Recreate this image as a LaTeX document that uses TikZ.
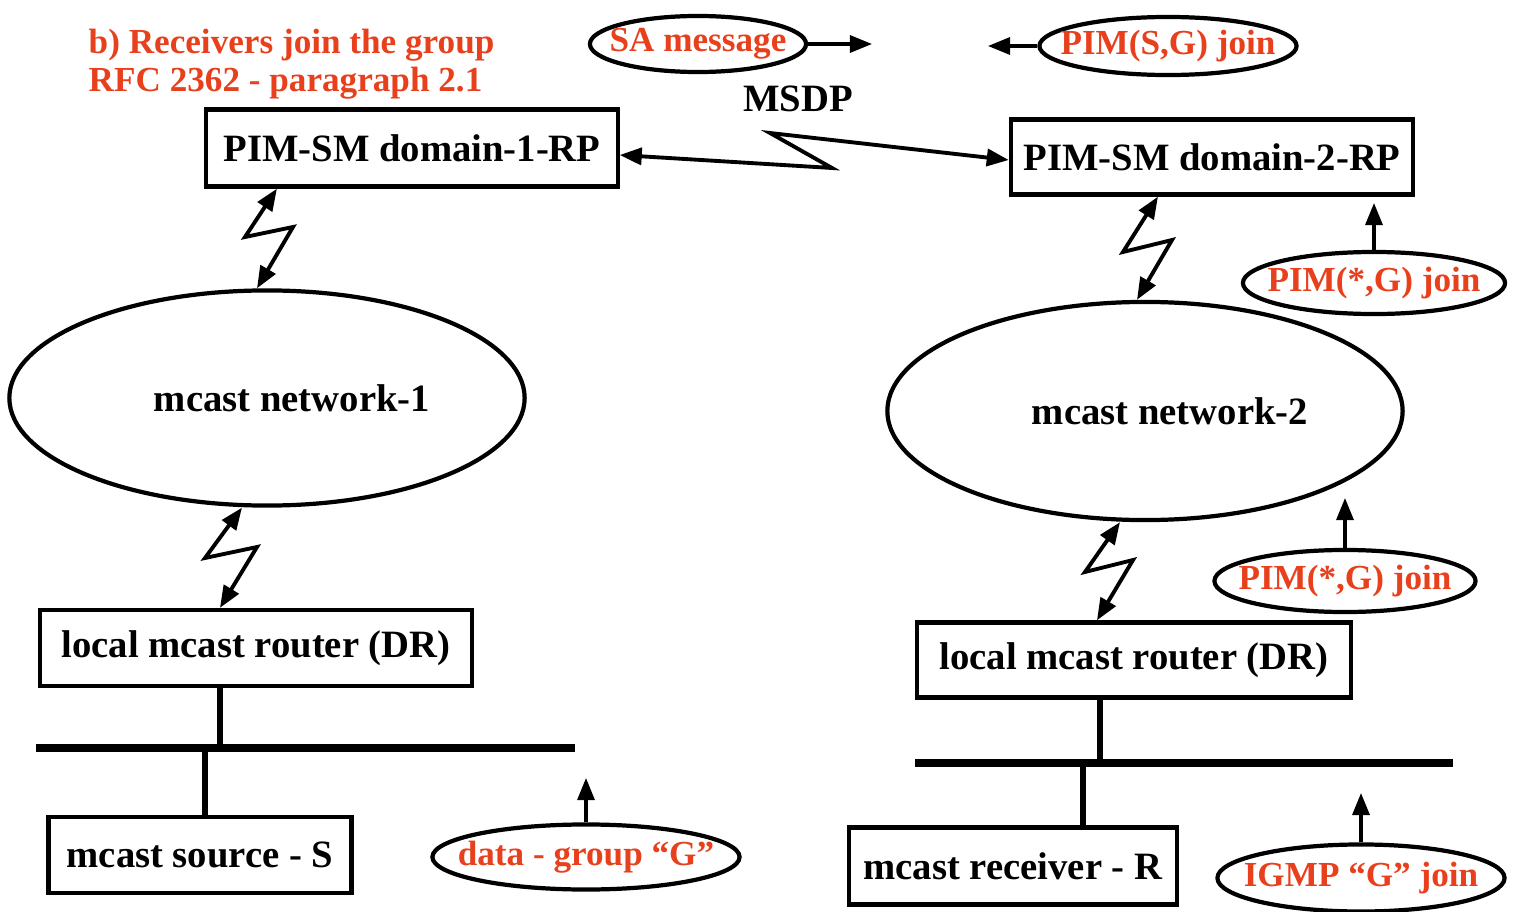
\documentclass[tikz,border=0pt]{standalone}
\usepackage{fontspec}
\setmainfont{Liberation Serif}
\usetikzlibrary{shapes.geometric,arrows.meta}
\definecolor{msgred}{RGB}{232,64,28}
\newcommand{\msgtext}[1]{\makebox[0pt]{#1}}

\begin{document}
\begin{tikzpicture}[x=0.01cm,y=-0.01cm,
        box/.style={draw,line width=1.2pt,inner sep=0pt,font=\fontsize{11}{13}\selectfont\bfseries},
        cloud/.style={draw,ellipse,line width=1.2pt,inner sep=0pt,font=\fontsize{11}{13}\selectfont\bfseries},
        msg/.style={draw,ellipse,line width=1.2pt,inner sep=0pt,text=msgred,font=\fontsize{10}{12}\selectfont\bfseries},
        zap/.style={line width=1.1pt,line join=miter,{Triangle[length=0.22cm,width=0.17cm]}-{Triangle[length=0.22cm,width=0.17cm]}},
        push/.style={line width=0.9pt,-{Triangle[length=0.22cm,width=0.17cm]}},
        bus/.style={line width=2.3pt},
        drop/.style={line width=1.7pt}]
        \useasboundingbox (0,0) rectangle (1514,912);  % Frame

        % Title
        \node[anchor=north west,align=left,text=msgred,font=\fontsize{10}{10.8}\selectfont\bfseries,inner sep=0pt] (title) at (88,28) {b) Receivers join the group\\RFC 2362 - paragraph 2.1};

        % Domain 1
        \node[box,minimum width=4.11cm,minimum height=0.77cm] (rp1) at (412,148) {PIM-SM domain-1-RP};
        \node[cloud,minimum width=5.15cm,minimum height=2.15cm] (net1) at (267,398) {\hspace{0.5cm}mcast network-1};
        \node[box,minimum width=4.32cm,minimum height=0.76cm] (dr1) at (256,648) {local mcast router (DR)\hspace{0.2cm}};
        \node[box,minimum width=3.03cm,minimum height=0.76cm] (src) at (200,855) {mcast source - S};

        % Domain 2
        \node[box,minimum width=4.02cm,minimum height=0.75cm] (rp2) at (1212,157) {PIM-SM domain-2-RP};
        \node[cloud,minimum width=5.15cm,minimum height=2.18cm] (net2) at (1145,411) {\hspace{0.5cm}mcast network-2};
        \node[box,minimum width=4.33cm,minimum height=0.75cm] (dr2) at (1134,660) {local mcast router (DR)\hspace{0.2cm}};
        \node[box,minimum width=3.28cm,minimum height=0.77cm] (rcv) at (1013,866) {mcast receiver - R};

        % Messages
        \node[msg,minimum width=2.16cm,minimum height=0.56cm] (sa) at (698,44) {\msgtext{SA message}};
        \node[msg,minimum width=2.57cm,minimum height=0.58cm] (sgjoin) at (1168,46) {\msgtext{PIM(S,G) join}};
        \node[msg,minimum width=2.62cm,minimum height=0.62cm] (rpjoin) at (1374,283) {\msgtext{PIM(*,G) join}};
        \node[msg,minimum width=2.61cm,minimum height=0.62cm] (netjoin) at (1345,581) {\msgtext{PIM(*,G) join}};
        \node[msg,minimum width=3.07cm,minimum height=0.65cm] (data) at (586,857) {\msgtext{data - group “G”}};
        \node[msg,minimum width=2.87cm,minimum height=0.67cm] (igmp) at (1361,878) {\msgtext{IGMP “G” join}};
        \node[font=\fontsize{11}{13}\selectfont\bfseries] (msdp) at (798,99) {MSDP};

        % Free ends of the message arrows
        \coordinate (saend) at (872,44);
        \coordinate (sgend) at (988,46);
        \coordinate (rpjoinend) at (1374,203);
        \coordinate (netjoinend) at (1345,498);
        \coordinate (dataend) at (586,778);
        \coordinate (igmpend) at (1361,793);

        \draw[push] (sa.east) -- (saend);  % SA message
        \draw[push] (sgjoin.west) -- (sgend);  % (S,G) join
        \draw[push] (rpjoin.north) -- (rpjoinend);
        \draw[push] (netjoin.north) -- (netjoinend);
        \draw[push] (data.north) -- (dataend);
        \draw[push] (igmp.north) -- (igmpend);

        % Zig-zag links
        \draw[zap] ([yshift=-0.07cm]rp1.east) -- (832,168) -- (770,133) -- ([yshift=-0.03cm]rp2.west);  % MSDP
        \draw[zap] ([xshift=-1.35cm]rp1.south) -- (245,237) -- (293,227) -- ([xshift=-0.1cm]net1.north);
        \draw[zap] ([xshift=-0.25cm]net1.south) -- (205,558) -- (257,547) -- ([xshift=-0.36cm]dr1.north);
        \draw[zap] ([xshift=-0.54cm]rp2.south) -- (1123,252) -- (1172,240) -- ([xshift=-0.08cm]net2.north);
        \draw[zap] ([xshift=-0.25cm]net2.south) -- (1085,572) -- (1133,560) -- ([xshift=-0.37cm]dr2.north);

        % LAN segments
        \coordinate (lan1w) at (36,748);
        \coordinate (lan1e) at (575,748);
        \coordinate (tap1) at (220,748);
        \coordinate (tap2) at (205,748);
        \draw[bus] (lan1w) -- (lan1e);  % Segment 1
        \draw[drop] (dr1.south -| tap1) -- (tap1);
        \draw[drop] (tap2) -- (src.north -| tap2);

        \coordinate (lan2w) at (915,763);
        \coordinate (lan2e) at (1453,763);
        \coordinate (tap3) at (1100,763);
        \coordinate (tap4) at (1083,763);
        \draw[bus] (lan2w) -- (lan2e);  % Segment 2
        \draw[drop] (dr2.south -| tap3) -- (tap3);
        \draw[drop] (tap4) -- (rcv.north -| tap4);
    \end{tikzpicture}
\end{document}
